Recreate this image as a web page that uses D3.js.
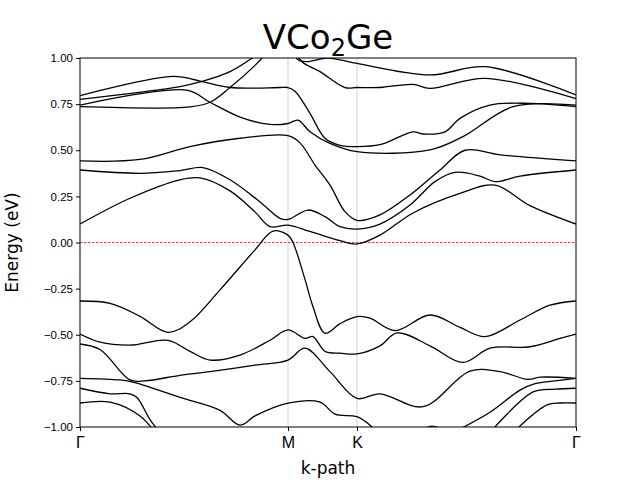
<!DOCTYPE html>
<html><head><meta charset="utf-8">
<script src="https://cdn.jsdelivr.net/npm/d3@7"></script>
<style>body{margin:0;background:#fff}svg{font-family:"DejaVu Sans",sans-serif}</style>
</head><body><svg width="640" height="480"></svg>
<script>
// k-path positions of the high-symmetry points
const kLabels = ["Γ", "M", "K", "Γ"];
const kTicks = [0, 208, 277, 496];
const yTicks = [1.0, 0.75, 0.5, 0.25, 0.0, -0.25, -0.5, -0.75, -1.0];

// bands, as [k, energy]
const bands = [
  [[0,0.796],[93,0.90],[120,0.875],[150,0.84],[200,0.84],[208,0.84],[215,0.82],[230,0.70],[245,0.565],[260,0.527],[277,0.52],[300,0.53],[333,0.60],[343,0.588],[365,0.60],[380,0.673],[410,0.745],[450,0.754],[496,0.736]],
  [[0,0.776],[100,0.845],[120,0.87],[150,0.926],[180,1.03]],
  [[213,1.05],[218,0.99],[227,0.98],[247,1.0],[260,0.99],[277,0.971],[350,0.908],[405,0.953],[496,0.80]],
  [[214,1.05],[222,0.98],[240,0.926],[265,0.84],[277,0.84],[300,0.84],[333,0.857],[350,0.835],[405,0.89],[496,0.78]],
  [[0,0.745],[107,0.826],[130,0.76],[160,0.68],[190,0.64],[208,0.645],[218,0.663],[230,0.60],[250,0.537],[277,0.492],[350,0.502],[383,0.574],[433,0.736],[496,0.745]],
  [[0,0.736],[110,0.735],[130,0.76],[150,0.84],[175,0.96],[187,1.03]],
  [[0,0.442],[60,0.45],[110,0.52],[160,0.565],[208,0.579],[220,0.54],[235,0.42],[250,0.311],[265,0.167],[277,0.12],[300,0.15],[330,0.258],[360,0.393],[385,0.50],[420,0.475],[496,0.442]],
  [[0,0.393],[60,0.375],[100,0.39],[123,0.406],[150,0.34],[180,0.22],[200,0.131],[208,0.125],[228,0.176],[245,0.14],[260,0.086],[277,0.073],[300,0.10],[330,0.203],[355,0.33],[375,0.38],[400,0.36],[415,0.33],[440,0.36],[496,0.393]],
  [[0,0.10],[50,0.24],[100,0.34],[120,0.35],[150,0.28],[175,0.166],[190,0.086],[208,0.094],[230,0.06],[260,0.01],[277,-0.008],[300,0.04],[333,0.16],[380,0.266],[415,0.311],[450,0.20],[496,0.10]],
  [[0,-0.317],[30,-0.33],[60,-0.40],[88,-0.487],[110,-0.43],[140,-0.257],[175,-0.04],[193,0.062],[208,0.04],[213,0.0],[225,-0.20],[233,-0.348],[245,-0.492],[260,-0.44],[277,-0.402],[290,-0.41],[315,-0.478],[350,-0.393],[380,-0.46],[405,-0.51],[440,-0.42],[470,-0.34],[496,-0.317]],
  [[0,-0.496],[20,-0.54],[50,-0.556],[88,-0.53],[110,-0.59],[130,-0.637],[160,-0.61],[190,-0.53],[208,-0.474],[225,-0.52],[233,-0.51],[245,-0.59],[260,-0.60],[277,-0.604],[300,-0.56],[317,-0.49],[350,-0.56],[383,-0.65],[410,-0.573],[450,-0.565],[480,-0.52],[496,-0.496]],
  [[0,-0.55],[20,-0.58],[50,-0.745],[65,-0.75],[100,-0.72],[130,-0.70],[175,-0.665],[208,-0.637],[225,-0.573],[250,-0.70],[277,-0.845],[300,-0.82],[343,-0.89],[390,-0.697],[420,-0.70],[448,-0.742],[460,-0.73],[496,-0.736]],
  [[0,-0.736],[40,-0.745],[55,-0.76],[100,-0.84],[140,-0.91],[160,-0.99],[175,-0.94],[208,-0.871],[240,-0.865],[255,-0.93],[277,-0.944],[290,-0.99],[300,-1.05]],
  [[340,-1.02],[352,-0.995],[365,-1.02]],
  [[373,-1.03],[410,-0.92],[440,-0.80],[455,-0.765],[475,-0.75],[496,-0.736]],
  [[0,-0.79],[30,-0.82],[50,-0.82],[57,-0.84],[70,-0.96],[80,-1.03]],
  [[0,-0.87],[30,-0.865],[60,-0.94],[75,-1.03]],
  [[410,-1.03],[453,-0.81],[475,-0.795],[496,-0.79]],
  [[433,-1.03],[467,-0.88],[480,-0.87],[496,-0.87]]
];

const svg = d3.select("svg");
const margin = {top: 58, right: 64, bottom: 53, left: 80};
const width = 640 - margin.left - margin.right;
const height = 480 - margin.top - margin.bottom;

const x = d3.scaleLinear().domain([0, 496]).range([0, width]);
const y = d3.scaleLinear().domain([-1, 1]).range([height, 0]);

const g = svg.append("g").attr("transform", `translate(${margin.left},${margin.top})`);

g.append("clipPath").attr("id", "clip")
  .append("rect").attr("width", width).attr("height", height);

// vertical lines at the high-symmetry points
g.selectAll(".kline").data(kTicks.slice(1, -1)).enter().append("line")
  .attr("x1", (d) => x(d)).attr("x2", (d) => x(d))
  .attr("y1", 0).attr("y2", height)
  .attr("stroke", "#c8c8c8").attr("stroke-width", 0.8);

// Fermi level
g.append("line")
  .attr("x1", 0).attr("x2", width).attr("y1", y(0)).attr("y2", y(0))
  .attr("stroke", "red").attr("stroke-width", 0.8).attr("stroke-dasharray", "2.5,1.5");

const line = d3.line().x((d) => x(d[0])).y((d) => y(d[1])).curve(d3.curveCatmullRom.alpha(0.5));

g.append("g").attr("clip-path", "url(#clip)")
  .selectAll("path").data(bands).enter().append("path")
  .attr("d", line).attr("fill", "none")
  .attr("stroke", "black").attr("stroke-width", 1.3);

// axes
const xAxis = g.append("g").attr("transform", `translate(0,${height})`)
  .call(d3.axisBottom(x).tickValues(kTicks).tickFormat((d, i) => kLabels[i]).tickSizeOuter(0).tickSize(4));
xAxis.selectAll("text").attr("font-size", 16).attr("dy", "0.9em").attr("fill", "black");

const yAxis = g.append("g")
  .call(d3.axisLeft(y).tickValues(yTicks).tickFormat(d3.format(".2f")).tickSizeOuter(0).tickSize(4));
yAxis.selectAll("text").attr("font-size", 11.5).attr("fill", "black");

svg.selectAll(".domain").remove();
g.append("rect").attr("width", width).attr("height", height)
  .attr("fill", "none").attr("stroke", "black").attr("stroke-width", 1);

svg.append("text").attr("x", margin.left + width / 2).attr("y", 474)
  .attr("text-anchor", "middle").attr("font-size", 17).text("k-path");
svg.append("text").attr("transform", `translate(18,${margin.top + height / 2}) rotate(-90)`)
  .attr("text-anchor", "middle").attr("font-size", 17).text("Energy (eV)");

const title = svg.append("text").attr("x", margin.left + width / 2).attr("y", 49)
  .attr("text-anchor", "middle").attr("font-size", 34);
title.append("tspan").text("VCo");
title.append("tspan").attr("font-size", 24).attr("dy", 7).text("2");
title.append("tspan").attr("dy", -7).text("Ge");
</script></body></html>
